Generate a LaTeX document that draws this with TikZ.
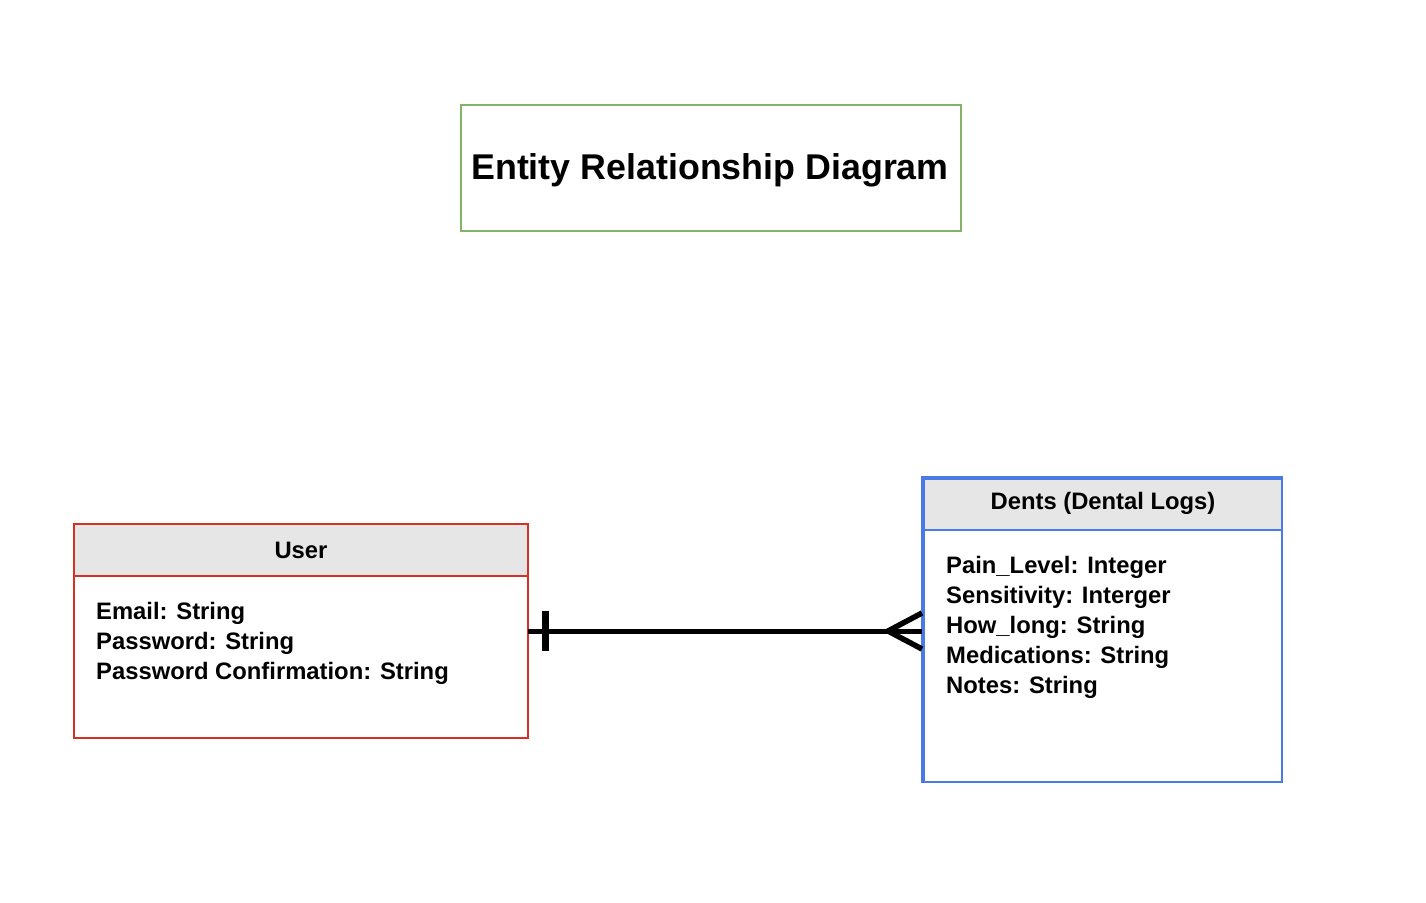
\documentclass[tikz,border=0pt]{standalone}
\usepackage{fontspec}
\setmainfont{Liberation Sans}
\definecolor{hdrgray}{HTML}{E6E6E6}
\definecolor{redline}{HTML}{D93025}
\definecolor{blueline}{HTML}{4A7AE6}
\definecolor{greenline}{HTML}{82B366}
\tikzset{
  field/.style={anchor=base west, inner sep=0pt, font=\fontsize{23.8}{30}\selectfont\bfseries},
  hdr/.style={anchor=center, inner sep=0pt, font=\fontsize{23.8}{30}\selectfont\bfseries},
  rel/.style={line width=5pt},
}
\begin{document}
\begin{tikzpicture}[x=1pt,y=-1pt]
\useasboundingbox[fill=white] (0,0) rectangle (1426,902);
% title
\node[draw=greenline, line width=1.5pt, minimum width=500pt, minimum height=126pt, inner sep=0pt] (title) at (711,168) {};
\node[inner sep=0pt, font=\fontsize{35.8}{40}\selectfont\bfseries] (titletext) at (710,170) {Entity Relationship Diagram};
% User box
\fill[hdrgray] (74,524) rectangle (528,576);
\draw[redline, line width=1.5pt] (74,524) rectangle (528,738);
\draw[redline, line width=1.5pt] (74,576) -- (528,576);
\coordinate (userR) at (528,631);
\node[hdr] (userh) at (301,550) {User};
\node[field] (u1) at (96,619) {Email: String};
\node[field] (u2) at (96,649) {Password: String};
\node[field] (u3) at (96,679) {Password Confirmation: String};
% Dents box
\fill[hdrgray] (922,477) rectangle (1282,530);
\draw[blueline, line width=1.5pt] (922,477) rectangle (1282,782);
\draw[blueline, line width=3pt] (923,782) -- (923,478) -- (1282,478);
\draw[blueline, line width=1.5pt] (922,530) -- (1282,530);
\coordinate (dentsL) at (922,631);
\node[hdr] (dentsh) at (1103,503) {Dents (Dental Logs)};
\node[field] (d1) at (946,573) {Pain\_Level: Integer};
\node[field] (d2) at (946,603) {Sensitivity: Interger};
\node[field] (d3) at (946,633) {How\_long: String};
\node[field] (d4) at (946,663) {Medications: String};
\node[field] (d5) at (946,693) {Notes: String};
% relationship
\draw[rel] (userR) -- (dentsL);
\draw[line width=7pt] ([xshift=17pt,yshift=-20pt]userR) -- ([xshift=17pt,yshift=20pt]userR);
\draw[line width=5.5pt] ([yshift=-18pt]dentsL) -- ([xshift=-34pt]dentsL) -- ([yshift=18pt]dentsL);
\end{tikzpicture}
\end{document}
